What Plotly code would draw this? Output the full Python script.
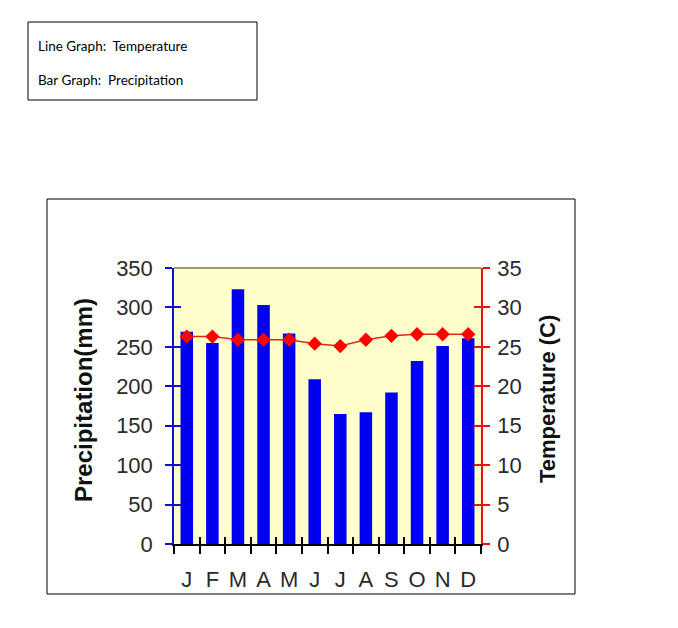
import plotly.graph_objects as go

months = ["J", "F", "M", "A", "M ", "J ", "J  ", "A ", "S", "O", "N", "D"]
month_labels = ["J", "F", "M", "A", "M", "J", "J", "A", "S", "O", "N", "D"]
precipitation = [269, 255, 323, 303, 267, 209, 165, 167, 192, 232, 251, 261]
temperature = [26.3, 26.3, 25.9, 25.9, 25.9, 25.4, 25.1, 25.9, 26.4, 26.6, 26.6, 26.6]

precip_ticks = [0, 50, 100, 150, 200, 250, 300, 350]
temp_ticks = [0, 5, 10, 15, 20, 25, 30, 35]

# page body has an 8px margin, so the figure is drawn 8px smaller
OFF = 8
W, H = 678 - OFF, 628 - OFF
# plot area edges in page pixels
L, R, T, B = 174, 481, 268, 544


def px(x):
    return (x - L) / (R - L)


def py(y):
    return (B - y) / (B - T)


tick_font = dict(family="Liberation Sans, Arial", size=22, color="#2a2a2a")
blue = "#1010d0"
red = "#ee1111"
cat_range = [-0.5, len(months) - 0.5]

fig = go.Figure()
fig.add_trace(
    go.Bar(
        x=months, y=precipitation,
        name="Precipitation",
        marker=dict(color="#0000f0", line=dict(width=0)),
        yaxis="y"
    )
)
fig.add_trace(
    go.Scatter(
        x=months, y=temperature,
        mode="lines+markers",
        name="Temperature",
        line=dict(color="#dd2a10", width=1.5),
        marker=dict(symbol="diamond", size=11, color="#ff0000"),
        yaxis="y2"
    )
)
# invisible copies, only so the overlay axes (inner half of crossing ticks) get drawn
fig.add_trace(
    go.Scatter(x=months, y=precipitation, mode="markers", marker=dict(opacity=0),
               xaxis="x2", yaxis="y3", hoverinfo="skip")
)
fig.add_trace(
    go.Scatter(x=months, y=temperature, mode="markers", marker=dict(opacity=0),
               yaxis="y4", hoverinfo="skip")
)

fig.update_layout(
    width=W, height=H,
    margin=dict(l=L - OFF, r=W - (R - OFF), t=T - OFF, b=H - (B - OFF), pad=0),
    paper_bgcolor="white",
    plot_bgcolor="#ffffcc",
    showlegend=False,
    bargap=0.51,
    xaxis=dict(
        type="category", range=cat_range,
        tickvals=months, ticktext=month_labels, tickangle=0,
        showline=True, linecolor="black", linewidth=1.5,
        ticks="outside", ticklen=8, tickcolor="black", tickwidth=1.5,
        tickson="boundaries",
        showgrid=False, zeroline=False,
        tickfont=tick_font,
        ticklabelstandoff=15,
        fixedrange=True
    ),
    xaxis2=dict(
        type="category", range=cat_range,
        overlaying="x", anchor="y", side="bottom",
        tickvals=months, tickson="boundaries",
        ticks="inside", ticklen=7, tickcolor="black", tickwidth=1.5,
        showticklabels=False, showline=False, showgrid=False, zeroline=False
    ),
    yaxis=dict(
        range=[0, 350], tickvals=precip_ticks,
        showline=True, linecolor=blue, linewidth=1.5,
        ticks="outside", ticklen=7, tickcolor=blue, tickwidth=1.5,
        showgrid=False, zeroline=False,
        tickfont=tick_font,
        ticklabelstandoff=8
    ),
    yaxis2=dict(
        range=[0, 35], tickvals=temp_ticks,
        overlaying="y", side="right",
        showline=True, linecolor=red, linewidth=1.5,
        ticks="outside", ticklen=7, tickcolor=red, tickwidth=1.5,
        showgrid=False, zeroline=False,
        tickfont=tick_font,
        ticklabelstandoff=3
    ),
    yaxis3=dict(
        range=[0, 350], tickvals=precip_ticks,
        overlaying="y", anchor="x", side="left",
        ticks="inside", ticklen=7, tickcolor=blue, tickwidth=1.5,
        showticklabels=False, showline=False, showgrid=False, zeroline=False
    ),
    yaxis4=dict(
        range=[0, 35], tickvals=temp_ticks,
        overlaying="y", anchor="x", side="right",
        ticks="inside", ticklen=7, tickcolor=red, tickwidth=1.5,
        showticklabels=False, showline=False, showgrid=False, zeroline=False
    ),
    shapes=[
        # top border of the plot area
        dict(type="line", xref="paper", yref="paper", x0=0, x1=1, y0=1, y1=1,
             line=dict(color="#7a7a5a", width=1.5)),
        # frame around the chart
        dict(type="rect", xref="paper", yref="paper",
             x0=px(47), x1=px(575), y0=py(594), y1=py(199),
             line=dict(color="black", width=1)),
        # legend note box
        dict(type="rect", xref="paper", yref="paper",
             x0=px(28), x1=px(257), y0=py(100), y1=py(22),
             line=dict(color="black", width=1)),
    ],
    annotations=[
        dict(text="<b>Precipitation(mm)</b>", xref="paper", yref="paper",
             x=px(83), y=py(400), xanchor="center", yanchor="middle",
             textangle=-90, showarrow=False,
             font=dict(family="Liberation Sans, Arial", size=24, color="#111111")),
        dict(text="<b>Temperature (C)</b>", xref="paper", yref="paper",
             x=px(547), y=py(399), xanchor="center", yanchor="middle",
             textangle=-90, showarrow=False,
             font=dict(family="Liberation Sans, Arial", size=22, color="#111111")),
        dict(text="Line Graph:  Temperature", xref="paper", yref="paper",
             x=px(36), y=py(36), xanchor="left", showarrow=False,
             font=dict(family="Lato, Noto Sans", size=13.5, color="black")),
        dict(text="Bar Graph:  Precipitation", xref="paper", yref="paper",
             x=px(36), y=py(70), xanchor="left", showarrow=False,
             font=dict(family="Lato, Noto Sans", size=13.5, color="black")),
    ]
)

fig.write_html("out.html")
